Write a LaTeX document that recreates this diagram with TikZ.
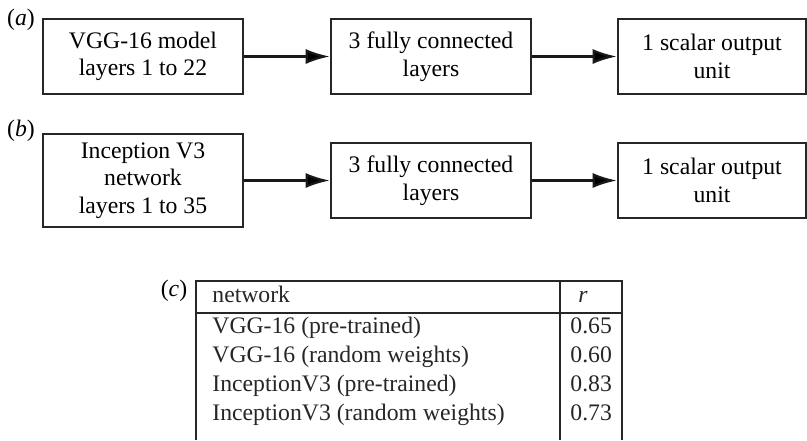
\documentclass[tikz,border=0pt]{standalone}
\usepackage{fontspec}
\setmainfont{Liberation Serif}
\usetikzlibrary{arrows.meta}

\tikzset{>=latex}

\begin{document}
\begin{tikzpicture}[x=0.5pt, y=-0.5pt]

	\tikzstyle{stage_box} = [rectangle, draw=black!85, line width=1.3pt, align=center, inner sep=0pt,
	                         minimum width=100pt, minimum height=37.5pt, font=\fontsize{11.85}{13.8}\selectfont]
	\tikzstyle{panel_tag} = [inner sep=0pt, font=\fontsize{11.85}{13.8}\selectfont]
	\tikzstyle{cell_text} = [anchor=west, inner sep=0pt, text height=8pt, text depth=2.5pt,
	                         font=\fontsize{11.85}{13.8}\selectfont, text=black!85]
	\tikzstyle{flow_arrow} = [-{Latex[length=12pt, width=7.5pt]}, line width=1.1pt, draw=black!90]

	\useasboundingbox (0,0) rectangle (807,440);

%------------------------------------------------------------
	\node[panel_tag] (tag_a) at (21,20) {(\textit{a})};

	\node[stage_box] (a0) at (143,56.5) {VGG-16 model\\layers 1 to 22};
	\node[stage_box] (a1) at (431,56.5) {3 fully connected\\layers};
	\node[stage_box, minimum width=94pt] (a2) at (712,56.5) {1 scalar output\\unit};

	\path[flow_arrow] (a0) edge (a1);
	\path[flow_arrow] (a1) edge (a2);

%------------------------------------------------------------
	\node[panel_tag] (tag_b) at (21,131) {(\textit{b})};

	\node[stage_box, minimum height=46.5pt] (b0) at (143,180.5) {Inception V3\\network\\layers 1 to 35};
	\node[stage_box] (b1) at (431,180.5) {3 fully connected\\layers};
	\node[stage_box, minimum width=94pt] (b2) at (712,180.5) {1 scalar output\\unit};

	\path[flow_arrow] (b0) edge (b1);
	\path[flow_arrow] (b1) edge (b2);

%------------------------------------------------------------
	\node[panel_tag] (tag_c) at (174,291) {(\textit{c})};

	\draw[line width=0.6pt, black!85] (196,440) -- (196,281) -- (622,281) -- (622,440);
	\draw[line width=0.6pt, black!85] (196,313) -- (622,313);
	\draw[line width=0.6pt, black!85] (560,281) -- (560,440);

	\node[cell_text] (h0) at (212,297) {network};
	\node[cell_text] (h1) at (578,297) {\textit{r}};

	\node[cell_text] (n0) at (212,328) {VGG-16 (pre-trained)};
	\node[cell_text] (n1) at (212,357) {VGG-16 (random weights)};
	\node[cell_text] (n2) at (212,386) {InceptionV3 (pre-trained)};
	\node[cell_text] (n3) at (212,415) {InceptionV3 (random weights)};

	\node[cell_text] (r0) at (570,328) {0.65};
	\node[cell_text] (r1) at (570,357) {0.60};
	\node[cell_text] (r2) at (570,386) {0.83};
	\node[cell_text] (r3) at (570,415) {0.73};

\end{tikzpicture}
\end{document}
